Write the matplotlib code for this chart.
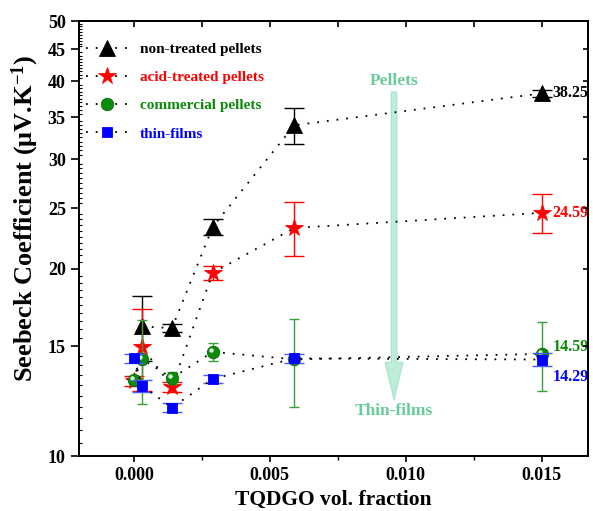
import matplotlib
matplotlib.use("Agg")
import matplotlib.pyplot as plt
from matplotlib.ticker import FixedLocator, MultipleLocator, NullFormatter, NullLocator, FormatStrFormatter
from matplotlib.transforms import offset_copy

plt.rcParams['font.family'] = ['Liberation Serif', 'DejaVu Serif']
plt.rcParams['font.weight'] = 'bold'
plt.rcParams['mathtext.default'] = 'regular'

# TQDGO volume fractions
x_all = [0.0, 0.0003, 0.0014, 0.0029, 0.0059, 0.015]
x_nontreated = [0.0003, 0.0014, 0.0029, 0.0059, 0.015]

# Seebeck coefficient (uV/K) and error
s_nontreated = [16.15, 16.05, 23.35, 34.0, 38.25]
e_nontreated = [1.95, 0.25, 0.7, 2.3, 0.45]
s_acid = [13.2, 14.95, 12.92, 19.7, 23.25, 24.59]
e_acid = [0.25, 2.25, 0.25, 0.5, 2.3, 1.8]
s_commercial = [13.24, 14.32, 13.34, 14.7, 14.3, 14.59]
e_commercial = [0.2, 2.2, 0.3, 0.5, 2.3, 1.85]
s_films = [14.35, 12.97, 11.96, 13.3, 14.35, 14.29]
e_films = [0.25, 0.3, 0.2, 0.2, 0.25, 0.35]

labels = ["non-treated pellets", "acid-treated pellets", "commercial pellets", "thin-films"]
y_ticks = [10, 15, 20, 25, 30, 35, 40, 45, 50]

DOT = (0, (1, 4.4))

fig = plt.figure(figsize=(5.93, 5.11), dpi=100)
ax = fig.add_axes([0.1332, 0.1076, 0.8583, 0.8513])

series = [
    (x_nontreated, s_nontreated, e_nontreated, "^", 11, "black", "black", "black", 7),
    (x_all, s_acid, e_acid, "*", 13, "red", "red", "red", 7),
    (x_all, s_commercial, e_commercial, "o", 9, "#0b8a0b", "#0a6e0a", "#3a9e3a", 3.5),
    (x_all, s_films, e_films, "s", 7, "#0000ff", "#0000ff", "#4a5cff", 7),
]

handles = []
for i, (xs, ys, es, mk, ms, fc, mec, ecol, cap) in enumerate(series):
    z = 3 + i
    ax.errorbar(xs, ys, yerr=es, fmt="none", ecolor=ecol, elinewidth=1.0,
                capsize=cap, capthick=1.0, zorder=z)
    h, = ax.plot(xs, ys, linestyle=DOT, color="black", lw=1.3, marker=mk,
                 markersize=ms, markerfacecolor=fc, markeredgecolor=mec,
                 markeredgewidth=0.6, label=labels[i], zorder=z + 0.5)
    handles.append(h)
    if mk == "o":
        # glossy highlight on the spheres
        tr = offset_copy(ax.transData, fig=fig, x=-1.3, y=1.3, units="points")
        ax.plot(xs, ys, linestyle="none", marker="o", markersize=3.2,
                markerfacecolor="#d8f5d8", markeredgecolor="none",
                transform=tr, zorder=z + 0.6)

# end-point value labels
colors = ["black", "red", "#0b8a0b", "#0000ff"]
offsets = [0, 0, 5, -12.5]
for (xs, ys, *_), col, dy in zip(series, colors, offsets):
    ax.annotate(f"{ys[-1]:.2f}", xy=(xs[-1], ys[-1]), xytext=(8, dy),
                textcoords="offset points", ha="left", va="center",
                fontsize=11.5, fontweight="bold", color=col, zorder=10)

# Pellets -> Thin-films arrow
arrow_col = "#66cc99"
ax.annotate("", xy=(0.619, 0.129), xytext=(0.619, 0.837), xycoords="axes fraction",
            arrowprops=dict(arrowstyle="simple,head_length=2.7,head_width=1.3,tail_width=0.4",
                            color="#7fdcb4", alpha=0.5, shrinkA=0, shrinkB=0,
                            mutation_scale=10), zorder=2)
ax.text(0.619, 0.863, "Pellets", transform=ax.transAxes, ha="center", va="center",
        fontsize=12.5, fontweight="bold", color=arrow_col)
ax.text(0.619, 0.104, "Thin-films", transform=ax.transAxes, ha="center", va="center",
        fontsize=12.5, fontweight="bold", color=arrow_col)

ax.set_yscale("log")
ax.set_ylim(10, 50)
ax.set_xlim(-0.00202, 0.0167)
ax.yaxis.set_major_locator(FixedLocator(y_ticks))
ax.yaxis.set_major_formatter(FormatStrFormatter("%d"))
ax.yaxis.set_minor_locator(MultipleLocator(0.5))
ax.yaxis.set_minor_formatter(NullFormatter())
ax.xaxis.set_major_locator(MultipleLocator(0.005))
ax.xaxis.set_minor_locator(MultipleLocator(0.0025))
ax.xaxis.set_major_formatter(FormatStrFormatter("%.3f"))

ax.tick_params(axis="y", which="major", direction="out", length=6, width=1.2, labelsize=13)
ax.tick_params(axis="y", which="minor", direction="in", length=2.2, width=0.8)
ax.tick_params(axis="x", which="major", direction="out", length=4.5, width=1.2, labelsize=13)
ax.tick_params(axis="x", which="minor", direction="out", length=3, width=1.0)
for sp in ax.spines.values():
    sp.set_linewidth(1.3)

# inward ticks on the right and top edges
axr = ax.twinx()
axr.set_yscale("log")
axr.set_ylim(ax.get_ylim())
axr.yaxis.set_major_locator(FixedLocator(y_ticks))
axr.yaxis.set_minor_locator(NullLocator())
axr.tick_params(axis="y", direction="in", length=3.5, width=1.2, labelright=False)
axt = ax.twiny()
axt.set_xlim(ax.get_xlim())
axt.xaxis.set_major_locator(MultipleLocator(0.005))
axt.xaxis.set_minor_locator(MultipleLocator(0.0025))
axt.tick_params(axis="x", which="both", direction="in", length=4.5, width=1.2, labeltop=False)
for a in (axr, axt):
    for sp in a.spines.values():
        sp.set_linewidth(1.3)

ax.set_xlabel("TQDGO vol. fraction", fontsize=15.5, fontweight="bold", labelpad=4)
ax.set_ylabel("Seebeck Coefficient (\u03bcV.K$^{-1}$)", fontsize=19,
              fontweight="bold", labelpad=5, y=0.546)

leg = axt.legend(handles=handles, loc="upper left", bbox_to_anchor=(0.014, 0.951),
                 frameon=False, fontsize=11, numpoints=1, handlelength=2.7,
                 handletextpad=0.8, labelspacing=0.95, borderpad=0, borderaxespad=0,
                 labelcolor=colors)

fig.savefig("out.png", dpi=100)
